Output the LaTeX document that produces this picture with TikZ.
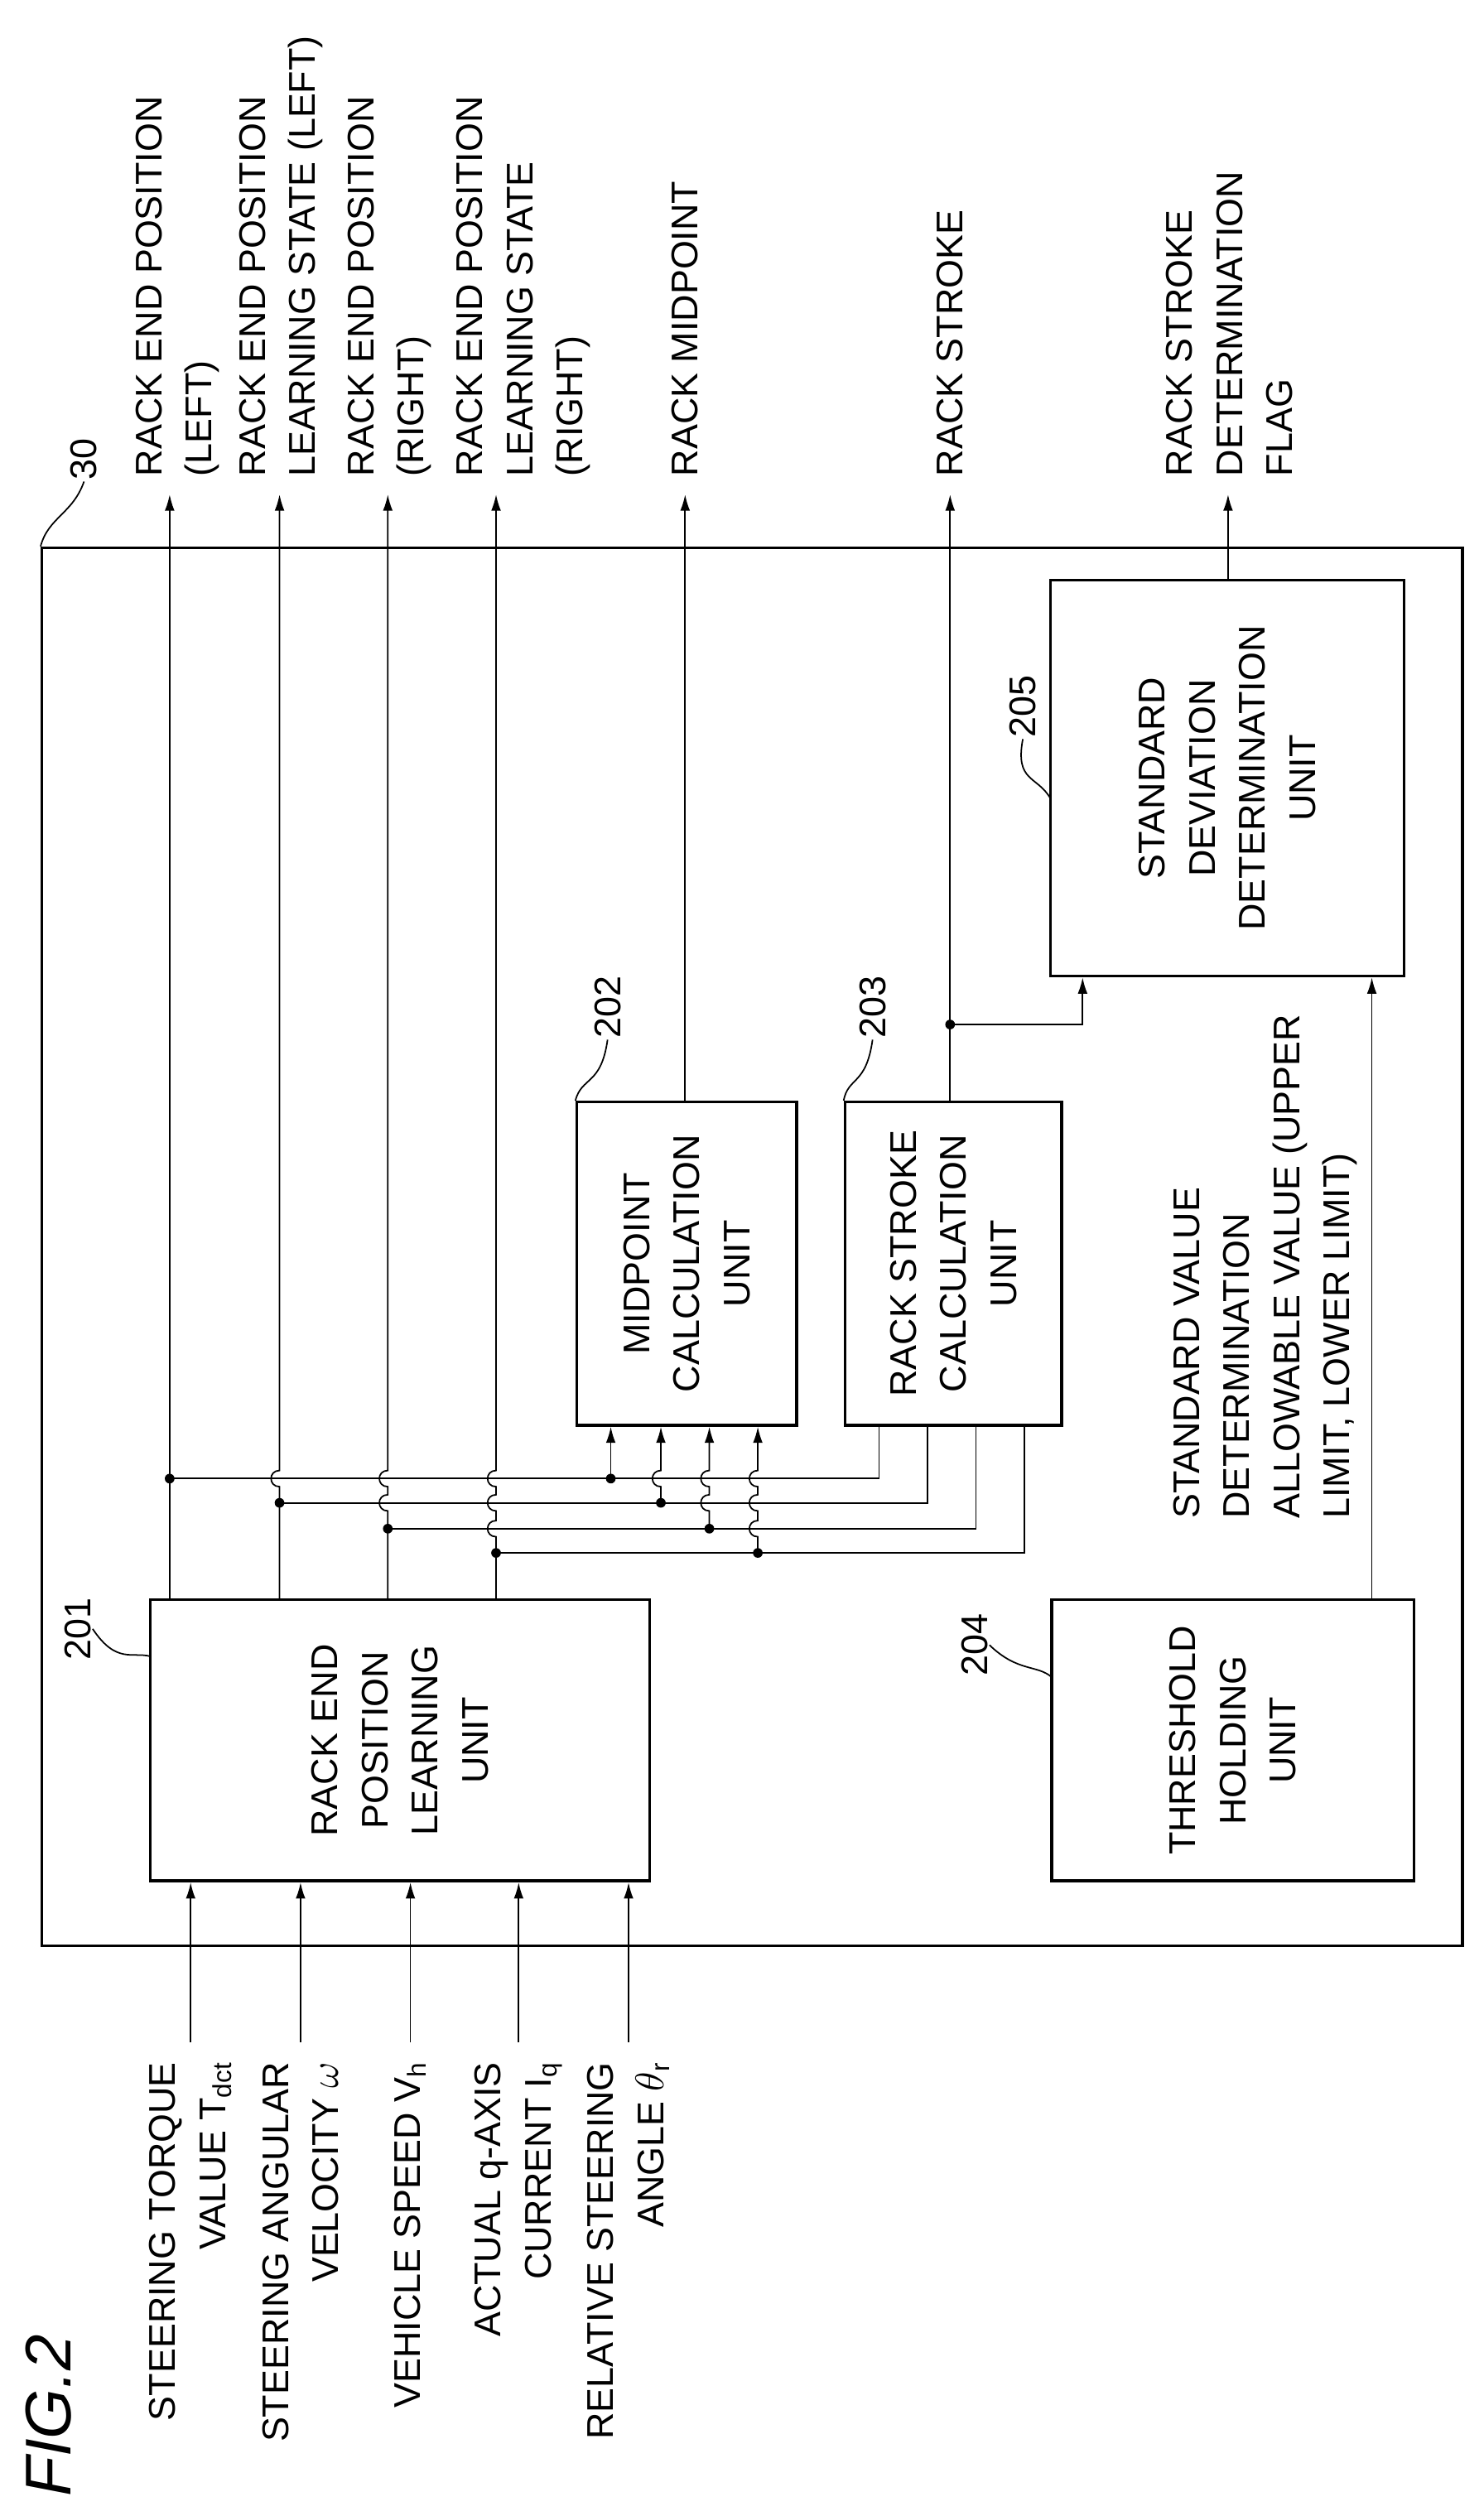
\documentclass[tikz,border=0pt]{standalone}
\usepackage{fontspec}
\setmainfont{Liberation Sans}
\usetikzlibrary{arrows.meta}
\tikzset{
  box/.style={rectangle, draw, line width=1.8pt, inner sep=0pt},
  txt/.style={rotate=90, align=center, font=\fontsize{23}{31}\selectfont, inner sep=0pt},
  lbl/.style={rotate=90, align=left, font=\fontsize{23}{31}\selectfont, inner sep=0pt, anchor=west},
  inl/.style={rotate=90, align=right, font=\fontsize{23}{31}\selectfont, inner sep=0pt, anchor=east},
  num/.style={rotate=90, font=\fontsize{23}{26}\selectfont, inner sep=1pt},
  arr/.style={line width=0.9pt, -{Latex[length=10pt,width=6pt]}},
  ln/.style={line width=0.9pt},
  dot/.style={circle, fill, inner sep=0pt, minimum size=6pt}
}
\def\hop#1#2{-- (#1,#2+5) .. controls (#1-7,#2+5) and (#1-7,#2-5) .. (#1,#2-5)}
\begin{document}
\begin{tikzpicture}[x=1pt, y=-1pt]
\useasboundingbox (0,0) rectangle (918,1557);

% Frames
\node[box, minimum width=879pt, minimum height=865pt] (ecu) at (465.5,771.5) {};
\node[box, minimum width=309pt, minimum height=174pt] (lrn) at (247.5,1077) {};
\node[box, minimum width=136pt, minimum height=200pt] (mid) at (425,782) {};
\node[box, minimum width=134pt, minimum height=200pt] (stk) at (590,782) {};
\node[box, minimum width=224pt, minimum height=174pt] (thr) at (763,1077) {};
\node[box, minimum width=219pt, minimum height=245pt] (dev) at (759.5,481.5) {};

\node[txt] at (lrn) {RACK END\\POSITION\\LEARNING\\UNIT};
\node[txt] at (mid) {MIDPOINT\\CALCULATION\\UNIT};
\node[txt] at (stk) {RACK STROKE\\CALCULATION\\UNIT};
\node[txt] at (thr) {THRESHOLD\\HOLDING\\UNIT};
\node[txt] at (dev) {STANDARD\\DEVIATION\\DETERMINATION\\UNIT};

% reference numerals
\node[num] (n30) at (52,284) {30};
\node[num] (n201) at (48,1008) {201};
\node[num] (n202) at (376,623) {202};
\node[num] (n203) at (540,623) {203};
\node[num] (n204) at (603,1018) {204};
\node[num] (n205) at (633,437) {205};
\draw[ln] (n30.west) .. controls (45,318) and (30,320) .. (ecu.north west);
\draw[ln] (n201.south) .. controls (72,1030) and (82,1022) .. (93,1025);
\draw[ln] (n202.west) .. controls (372,672) and (360,666) .. (mid.north west);
\draw[ln] (n203.west) .. controls (536,672) and (525,666) .. (stk.north west);
\draw[ln] (n204.south) .. controls (630,1035) and (642,1030) .. (651,1038);
\draw[ln] (n205.west) .. controls (628,484) and (642,480) .. (650,494);

% inputs
\foreach \x/\t in {118/{STEERING TORQUE\\VALUE T\textsubscript{dct}},
                   186/{STEERING ANGULAR\\VELOCITY $\omega$},
                   254/{VEHICLE SPEED V\textsubscript{h}},
                   321/{ACTUAL q-AXIS\\CURRENT I\textsubscript{q}},
                   389/{RELATIVE STEERING\\ANGLE $\theta$\textsubscript{r}}}{
  \coordinate (in\x) at (\x,1264);
  \node[inl] at (\x,1276) {\t};
  \draw[arr] (in\x) -- (in\x |- lrn.south);
}

% outputs
\coordinate (o1) at (105,306);
\coordinate (o2) at (173,306);
\coordinate (o3) at (240,306);
\coordinate (o4) at (307,306);
\coordinate (o5) at (424,306);
\coordinate (o6) at (588,306);
\coordinate (o7) at (760,306);
\node[lbl] at (110,295) {RACK END POSITION\\(LEFT)};
\node[lbl] at (174,295) {RACK END POSITION\\LEARNING STATE (LEFT)};
\node[lbl] at (241,295) {RACK END POSITION\\(RIGHT)};
\node[lbl] at (324,295) {RACK END POSITION\\LEARNING STATE\\(RIGHT)};
\node[lbl] at (424,295) {RACK MIDPOINT};
\node[lbl] at (588,295) {RACK STROKE};
\node[lbl] at (761,295) {RACK STROKE\\DETERMINATION\\FLAG};

\draw[arr] (lrn.north -| o1) -- (o1);
\draw[arr] (lrn.north -| o2) \hop{173}{915} -- (o2);
\draw[arr] (lrn.north -| o3) \hop{240}{930} \hop{240}{915} -- (o3);
\draw[arr] (lrn.north -| o4) \hop{307}{946} \hop{307}{930} \hop{307}{915} -- (o4);
\draw[arr] (mid.north -| o5) -- (o5);
\draw[arr] (stk.north -| o6) -- (o6);
\draw[arr] (dev.north -| o7) -- (o7);

% branches
\node[dot] (d1) at (105,915) {};
\node[dot] (d2) at (173,930) {};
\node[dot] (d3) at (240,946) {};
\node[dot] (d4) at (307,961) {};
\node[dot] (e1) at (378,915) {};
\node[dot] (e2) at (409,930) {};
\node[dot] (e3) at (439,946) {};
\node[dot] (e4) at (469,961) {};
\draw[ln] (d1.center) -- (544,915) -- (stk.south -| 544,0);
\draw[ln] (d2.center) -- (574,930) -- (stk.south -| 574,0);
\draw[ln] (d3.center) -- (604,946) -- (stk.south -| 604,0);
\draw[ln] (d4.center) -- (634,961) -- (stk.south -| 634,0);
\draw[arr] (e1.center) -- (mid.south -| e1);
\draw[arr] (e2.center) \hop{409}{915} -- (mid.south -| e2);
\draw[arr] (e3.center) \hop{439}{930} \hop{439}{915} -- (mid.south -| e3);
\draw[arr] (e4.center) \hop{469}{946} \hop{469}{930} \hop{469}{915} -- (mid.south -| e4);

% stroke to deviation, threshold
\node[dot] (d5) at (588,634) {};
\draw[arr] (d5.center) -- (670,634) -- (dev.south -| 670,0);
\draw[arr] (thr.north -| 849,0) -- (dev.south -| 849,0);
\node[lbl] at (783,940) {STANDARD VALUE\\DETERMINATION\\ALLOWABLE VALUE (UPPER\\LIMIT, LOWER LIMIT)};

\node[rotate=90, font=\fontsize{40}{44}\selectfont\itshape, inner sep=0pt] (fig) at (30,1495) {FIG.2};
\end{tikzpicture}
\end{document}
